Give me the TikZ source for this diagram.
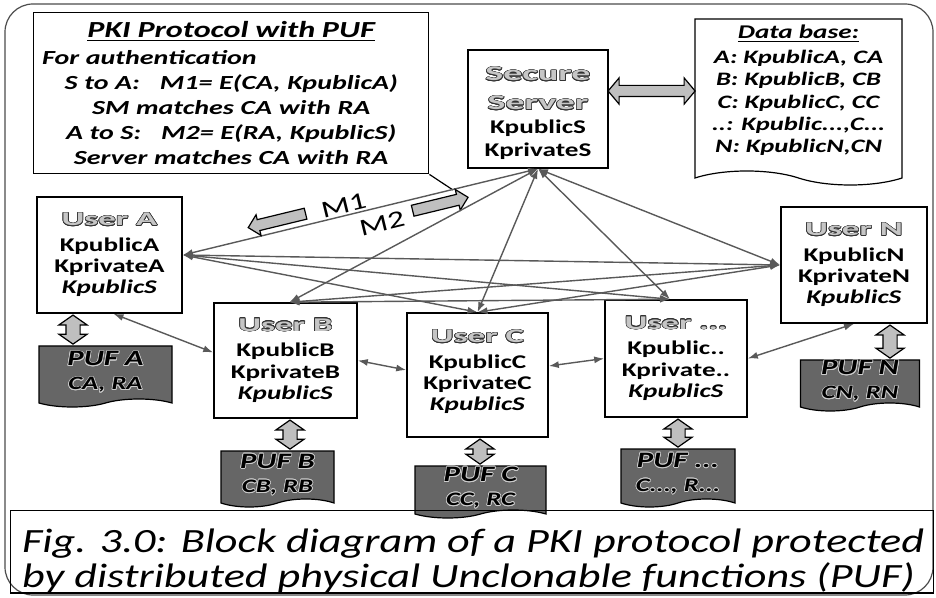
\documentclass[tikz,border=0pt]{standalone}
\usepackage{fontspec}
\setmainfont{Carlito}[FakeStretch=1.4]
\newfontfamily\ttlfont{Carlito}[FakeStretch=1.8]
\newfontfamily\capfont{Carlito}[FakeStretch=1.3]
\usepackage[copies]{contour}
\contourlength{0.35pt}
\usepackage{tikz}
\usetikzlibrary{shapes.arrows}
\usetikzlibrary{shapes.symbols}
\usetikzlibrary{positioning}
\usetikzlibrary{calc}
\usetikzlibrary{arrows.meta}
\tikzset{userbox/.style={draw,fill=white,line width=0.8pt,align=center,inner sep=0pt,font=\fontsize{9.7}{10.6}\selectfont\bfseries},
pufbox/.style={tape,tape bend top=none,tape bend bottom=in and out,tape bend height=4pt,draw,fill=black!60,line width=0.6pt,align=center,inner sep=0pt,font=\bfseries\itshape},
link/.style={black!65,line width=0.7pt,{Latex[length=5pt,width=3.5pt]}-{Latex[length=5pt,width=3.5pt]}},
dblarrow/.style={double arrow,draw=black,fill=gray!50,line width=0.6pt,double arrow head extend=3.5pt,double arrow tip angle=110,minimum width=0pt,inner sep=0pt},
msgarrow/.style={single arrow,draw=black,fill=gray!50,line width=0.6pt,single arrow head extend=2.5pt,minimum width=0pt,inner sep=0pt},
msglabel/.style={black,inner sep=0pt,font=\fontsize{12}{12}\selectfont}}
\newcommand{\ttl}[1]{{\ttlfont\bfseries\color{gray!45}\contour{black!80}{#1}}}
\newcommand{\puflbl}[2]{{\fontsize{11}{12}\selectfont\contour{gray!40}{#1}}\\{\fontsize{9.5}{12}\selectfont\contour{gray!40}{#2}}}

\begin{document}
\begin{tikzpicture}[x=0.5pt,y=-0.5pt]
\useasboundingbox (0,0) rectangle (936,598);
\draw[black!70,line width=0.6pt,rounded corners=14pt] (5,4) rectangle (933,595);

\node (pki) [draw,line width=0.7pt,anchor=north west,minimum width=197.5pt,minimum height=80.5pt,text width=185pt,align=center,inner sep=0pt,font=\fontsize{10}{12.5}\selectfont\bfseries\itshape] at (33,12) {{\fontsize{11.5}{13}\selectfont\underline{PKI Protocol with PUF}}\\[1pt]
\makebox[185pt][l]{\hspace*{-2pt}For authentication}\\
S to A:\quad M1= E(CA, KpublicA)\\
SM matches CA with RA\\
A to S:\quad M2= E(RA, KpublicS)\\
Server matches CA with RA};
\coordinate (pkitip) at (453,190);
\draw[line width=0.6pt] (pki.south east) -- (pkitip);

\node (srv) [userbox,minimum width=70pt,minimum height=59pt] at (538,109) {\rule{0pt}{11pt}{\fontsize{10.5}{11}\selectfont\ttl{Secure}}\\[4pt]{\fontsize{10.5}{11}\selectfont\ttl{Server}}\\[1.2pt]KpublicS\\[0.7pt]KprivateS};

\node (db) [tape,tape bend top=none,tape bend bottom=out and in,tape bend height=7pt,draw,fill=white,line width=0.6pt,minimum width=103.5pt,minimum height=83pt,align=center,inner sep=0pt,font=\fontsize{9.5}{11.15}\selectfont\bfseries\itshape] at (798.5,95) {{\fontsize{9.7}{12}\selectfont\underline{Data base:}}\\[1.3pt]
A: KpublicA, CA\\
B: KpublicB, CB\\
C: KpublicC, CC\\
..: Kpublic...,C...\\
N: KpublicN,CN\\[-5pt]\mbox{}};
\node (sdb) [dblarrow,double arrow head extend=3.75pt,double arrow tip angle=100,minimum height=43.5pt] at ($(srv.east)!.5!(db.west)+(0,-11)$) {\rule{0pt}{5pt}};

% users
\node (ua) [userbox,minimum width=72.5pt,minimum height=58pt] at (109.5,255) {\ttl{User A}\\[2.25pt]KpublicA\\KprivateA\\\textit{KpublicS}};
\node (ub) [userbox,minimum width=71.5pt,minimum height=57.5pt] at (285.5,360.5) {\ttl{User B}\\[2.25pt]KpublicB\\KprivateB\\\textit{KpublicS}};
\node (uc) [userbox,minimum width=70.5pt,minimum height=62pt] at (477.5,375) {\ttl{User C}\\[2.25pt]KpublicC\\KprivateC\\\textit{KpublicS}\\[-6pt]\mbox{}};
\node (udots) [userbox,minimum width=71pt,minimum height=58.5pt] at (676,358.5) {\ttl{User ...}\\[2.25pt]Kpublic..\\Kprivate..\\\textit{KpublicS}};
\node (un) [userbox,minimum width=73pt,minimum height=58pt] at (854,265) {\ttl{User N}\\[2.25pt]KpublicN\\KprivateN\\\textit{KpublicS}};

% PUFs
\node (pa) [pufbox,minimum width=66.5pt,minimum height=30.5pt] at (105.5,372.5) {\puflbl{PUF A}{CA, RA}};
\node (pb) [pufbox,minimum width=56.5pt,minimum height=28pt] at (277.5,475) {\puflbl{PUF B}{CB, RB}};
\node (pc) [pufbox,minimum width=65.5pt,minimum height=26pt] at (480.5,488) {\puflbl{PUF C}{CC, RC}};
\node (pdots) [pufbox,minimum width=57pt,minimum height=29pt] at (678,474) {\puflbl{PUF ...}{C..., R...}};
\node (pn) [pufbox,minimum width=59.5pt,minimum height=25.5pt] at (860,381.5) {\puflbl{PUF N}{CN, RN}};

\node (apa) [dblarrow,rotate=90,minimum height=14.5pt] at ($(ua.south)!.5!(pa.north)+(-34.5,0)$) {\rule{0pt}{6.5pt}};
\node (apb) [dblarrow,rotate=90,minimum height=14.5pt] at ($(ub.south)!.5!(pb.north)+(8.5,0)$) {\rule{0pt}{6.5pt}};
\node (apc) [dblarrow,rotate=90,minimum height=12.5pt] at ($(uc.south)!.5!(pc.north)+(1,0)$) {\rule{0pt}{6.5pt}};
\node (apdots) [dblarrow,rotate=90,minimum height=14pt] at ($(udots.south)!.5!(pdots.north)+(1,0)$) {\rule{0pt}{6.5pt}};
\node (apn) [dblarrow,rotate=90,minimum height=16.5pt] at ($(un.south)!.5!(pn.north)+(33,0)$) {\rule{0pt}{6.5pt}};

% server to users
\draw[link] (ua.east) -- (srv.south)
  node (m1arrow) [msgarrow,pos=0.28,sloped,above=2.5pt,minimum height=29.5pt,shape border rotate=180] {\rule{0pt}{5pt}}
  node (m1) [msglabel,pos=0.46,sloped,above=1pt] {M1}
  node (m2) [msglabel,pos=0.55,sloped,below=4pt] {M2}
  node (m2arrow) [msgarrow,pos=0.71,sloped,below=2.5pt,minimum height=28.5pt] {\rule{0pt}{5pt}};
\draw[link] (srv.south) -- ($(ub.north)+(4,0)$);
\draw[link] (srv.south) -- (uc.north);
\draw[link] (srv.south) -- ($(udots.north)+(-6,0)$);
\draw[link] (srv.south) -- (un.west);

% user to user
\draw[link] (ua.east) -- (un.west);
\draw[link] (ua.east) -- ($(udots.north)+(-6,0)$);
\draw[link] (ua.east) -- (uc.north);
\draw[link] ($(ub.north)+(4,0)$) -- (un.west);
\draw[link] ($(ub.north)+(4,0)$) -- ($(udots.north)+(-6,0)$);
\draw[link] (uc.north) -- (un.west);
\draw[link] ($(ua.south)+(4,0)$) -- ($(ub.west)+(0,-8)$);
\draw[link] (ub.east) -- ($(uc.west)+(0,-5)$);
\draw[link] ($(uc.east)+(0,-9)$) -- (udots.west);
\draw[link] (udots.east) -- (un.south);

\node (cap) [draw,line width=0.6pt,anchor=north west,minimum width=461.5pt,minimum height=40pt,align=left,inner sep=0pt,font=\capfont\itshape\fontsize{17}{17.5}\selectfont] at (10,510) {\rule{0pt}{21pt}\makebox[450pt][l]{Fig. 3.0: Block diagram of a PKI protocol protected}\\\makebox[450pt][l]{by distributed physical Unclonable functions (PUF)}};
\end{tikzpicture}
\end{document}
